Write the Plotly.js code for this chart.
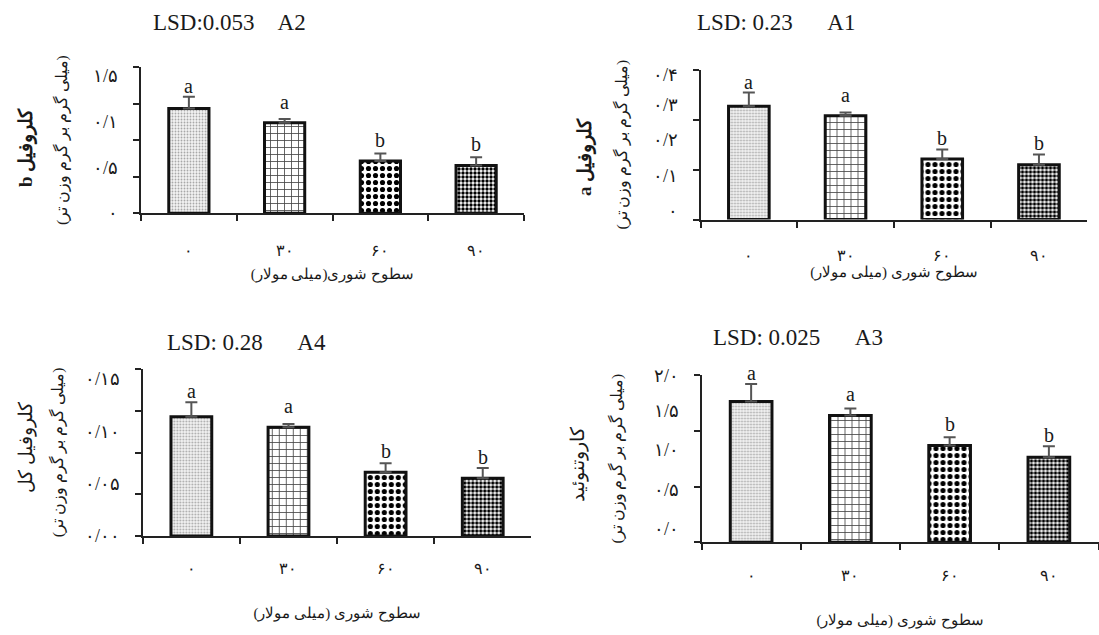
<!DOCTYPE html>
<html><head><meta charset="utf-8">
<script src="https://cdn.plot.ly/plotly-3.0.1.min.js"></script>
<style>html,body{margin:0;padding:0;background:#fff}</style>
</head><body>
<div id="chart" style="width:1099px;height:635px"></div>
<script>
// ---- data ----
const categories = ['۰', '۳۰', '۶۰', '۹۰'];
const letters = ['a', 'a', 'b', 'b'];

// A1: chlorophyll a
const chlA = [0.341, 0.312, 0.182, 0.165];
const chlAErr = [0.041, 0.010, 0.029, 0.031];
// A2: chlorophyll b
const chlB = [0.1147, 0.0990, 0.0573, 0.0523];
const chlBErr = [0.0127, 0.0040, 0.0081, 0.0091];
// A3: carotenoid
const carot = [1.768, 1.592, 1.215, 1.069];
const carotErr = [0.219, 0.088, 0.105, 0.138];
// A4: total chlorophyll
const chlTotal = [0.1143, 0.1041, 0.0610, 0.0553];
const chlTotalErr = [0.0139, 0.0032, 0.0087, 0.0099];

const tickTextA1 = ['۰/۴', '۰/۳', '۰/۲', '۰/۱', '۰'];
const tickTextA2 = ['۱/۵', '۰/۱', '۰/۵', '۰'];
const tickTextA3 = ['۲/۰', '۱/۵', '۱/۰', '۰/۵', '۰/۰'];
const tickTextA4 = ['۰/۱۵', '۰/۱۰', '۰/۰۵', '۰/۰۰'];

const RLE = '\u202B', PDF = '\u202C';
const rtl = s => RLE + s + PDF;

// ---- layout config (positions in px of the 1099x635 canvas) ----
const W = 1099, H = 635;
const SERIF = "Liberation Serif, Times New Roman, serif";
const INK = '#1a1a1a';

const panels = [
  { xa: 'x', ya: 'y', vals: chlB, errs: chlBErr, px: [141, 524], py: [67, 213.3],
    range: [0, 0.16], dtick: 0.04, labels: tickTextA2, labelPos: [0.15, 0.10, 0.05, 0],
    title: 'LSD:0.053\u00a0\u00a0\u00a0\u00a0A2', titleXY: [229, 22],
    name: '<b>کلروفیل b</b>', nameXY: [26, 148],
    units: '(میلی گرم بر گرم وزن تر)', ystand: 62,
    xtitle: 'سطوح شوری(میلی مولار)', xstand: 11, tls: 21 },
  { xa: 'x2', ya: 'y2', vals: chlA, errs: chlAErr, px: [700.5, 1087.3], py: [70, 219.5],
    range: [0, 0.45], dtick: 0.15, labels: tickTextA1, labelPos: [0.435, 0.345, 0.24, 0.13, 0.025],
    title: 'LSD: 0.23\u00a0\u00a0\u00a0\u00a0\u00a0\u00a0A1', titleXY: [776, 22],
    name: '<b>کلروفیل a</b>', nameXY: [585, 157],
    units: '(میلی گرم بر گرم وزن تر)', ystand: 61,
    xtitle: 'سطوح شوری (میلی مولار)', xstand: 4, tls: 20 },
  { xa: 'x3', ya: 'y3', vals: chlTotal, errs: chlTotalErr, px: [142.8, 531.3], py: [369, 536],
    range: [0, 0.16], dtick: 0.04, labels: tickTextA4, labelPos: [0.15, 0.10, 0.05, 0],
    title: 'LSD: 0.28\u00a0\u00a0\u00a0\u00a0\u00a0\u00a0A4', titleXY: [246, 342],
    name: 'کلروفیل کل', nameXY: [26, 447],
    units: '(میلی گرم بر گرم وزن تر)', ystand: 67,
    xtitle: 'سطوح شوری (میلی مولار)', xstand: 31, tls: 17 },
  { xa: 'x4', ya: 'y4', vals: carot, errs: carotErr, px: [701.5, 1098.5], py: [375, 542.3],
    range: [0, 2.1], dtick: 0.7, labels: tickTextA3, labelPos: [2.09, 1.651, 1.161, 0.658, 0.163],
    title: 'LSD: 0.025\u00a0\u00a0\u00a0\u00a0\u00a0\u00a0A3', titleXY: [798, 337],
    name: 'کاروتنوئید', nameXY: [578, 464],
    units: '(میلی گرم بر گرم وزن تر)', ystand: 67,
    xtitle: 'سطوح شوری (میلی مولار)', xstand: 32, tls: 17 }
];

const pattern = {
  shape: ['.', '+', '.', '.'],
  fgcolor: ['#a8a8a8', '#444444', '#000000', '#000000'],
  bgcolor: ['#f3f3f3', '#ffffff', '#ffffff', '#ffffff'],
  size: [3, 7, 7, 4],
  solidity: [0.3, 0.22, 0.42, 0.56],
  fillmode: 'replace'
};

const traces = [];
const annotations = [];
const layout = {
  width: W, height: H,
  margin: { l: 0, r: 0, t: 0, b: 0 },
  paper_bgcolor: '#fff', plot_bgcolor: 'rgba(0,0,0,0)',
  showlegend: false, bargap: 0.58,
  font: { family: SERIF, color: INK },
  annotations: annotations
};

panels.forEach((p, i) => {
  const n = i === 0 ? '' : String(i + 1);
  const pxPerUnit = (p.py[1] - p.py[0]) / (p.range[1] - p.range[0]);
  traces.push({
    type: 'bar', x: categories, y: p.vals, xaxis: p.xa, yaxis: p.ya,
    marker: { color: '#fff', line: { color: '#111', width: 3 }, pattern: pattern },
    error_y: { type: 'data', array: p.errs, arrayminus: p.errs.map(() => 0), symmetric: false,
               color: '#555', thickness: 2, width: 6 },
    hoverinfo: 'skip'
  });
  layout['xaxis' + n] = {
    domain: [p.px[0] / W, p.px[1] / W], anchor: p.ya, type: 'category',
    tickson: 'boundaries', ticks: 'outside', ticklen: 6, tickwidth: 2, tickcolor: '#222',
    showline: true, linewidth: 2, linecolor: '#222', showgrid: false, zeroline: false,
    tickfont: { family: SERIF, size: 16, color: INK }, ticklabelstandoff: p.tls,
    title: { text: rtl(p.xtitle), font: { family: SERIF, size: 15, color: INK }, standoff: p.xstand },
    fixedrange: true
  };
  layout['yaxis' + n] = {
    domain: [1 - p.py[1] / H, 1 - p.py[0] / H], anchor: p.xa, range: p.range,
    tickmode: 'linear', tick0: 0, dtick: p.dtick, ticks: 'outside', ticklen: 6, tickwidth: 2,
    tickcolor: '#222', showticklabels: false, showline: true, linewidth: 2, linecolor: '#222',
    showgrid: false, zeroline: false,
    title: { text: rtl(p.units), font: { family: SERIF, size: 15.5, color: INK }, standoff: p.ystand },
    fixedrange: true
  };
  // y tick labels (placed at their own heights, as in the original figure)
  p.labels.forEach((t, k) => {
    annotations.push({ text: t, xref: p.xa + ' domain', x: 0, xanchor: 'right', xshift: -21,
      yref: p.ya, y: p.labelPos[k], yanchor: 'middle', showarrow: false,
      font: { family: SERIF, size: 18, color: INK } });
  });
  // significance letters, just above the bar (and clear of its error bar)
  categories.forEach((c, k) => {
    const shift = Math.max(21, p.errs[k] * pxPerUnit + 11);
    annotations.push({ text: letters[k], xref: p.xa, x: c, yref: p.ya, y: p.vals[k],
      yanchor: 'middle', yshift: shift, showarrow: false,
      font: { family: SERIF, size: 20, color: INK } });
  });
  // panel title
  annotations.push({ text: p.title, xref: 'paper', yref: 'paper',
    x: p.titleXY[0] / W, y: 1 - p.titleXY[1] / H, xanchor: 'center', yanchor: 'middle',
    showarrow: false, font: { family: SERIF, size: 23, color: INK } });
  // variable name (first line of the y title)
  annotations.push({ text: rtl(p.name), xref: 'paper', yref: 'paper',
    x: p.nameXY[0] / W, y: 1 - p.nameXY[1] / H, xanchor: 'center', yanchor: 'middle',
    textangle: -90, showarrow: false, font: { family: SERIF, size: 19, color: INK } });
});

Plotly.newPlot('chart', traces, layout, { staticPlot: true, displayModeBar: false });
</script>
</body></html>
